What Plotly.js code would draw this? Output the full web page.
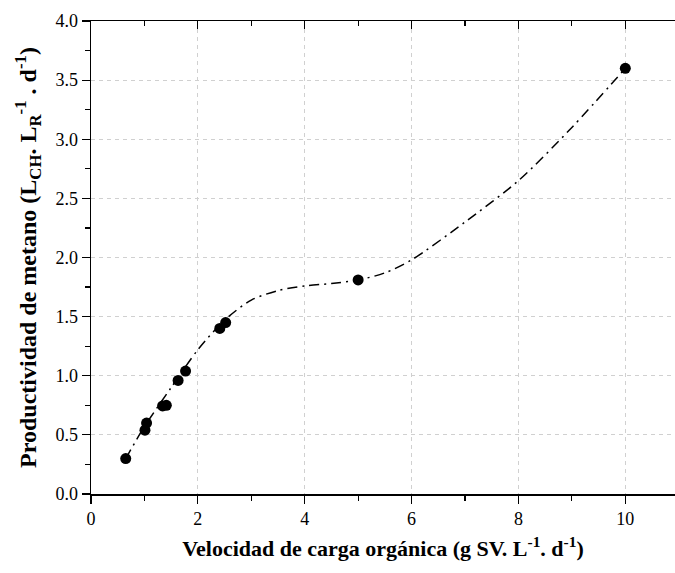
<!DOCTYPE html>
<html>
<head>
<meta charset="utf-8">
<script src="https://cdn.plot.ly/plotly-3.0.1.min.js"></script>
<style>
html,body{margin:0;padding:0;background:#fff;} #chart{width:675px;height:573px;}
#chart text{font-family:"Liberation Serif","Times New Roman",serif !important;}
</style>
</head>
<body>
<div id="chart"></div>
<script>
// Measured points
const olr = [0.65, 1.01, 1.04, 1.34, 1.41, 1.63, 1.77, 2.41, 2.52, 5.0, 10.0];
const methane = [0.30, 0.54, 0.60, 0.745, 0.75, 0.96, 1.04, 1.40, 1.45, 1.81, 3.60];
// Fitted trend line
const fitX = [0.65, 1.0, 1.5, 2.0, 2.5, 3.0, 3.5, 4.0, 4.5, 5.0, 5.5, 6.0, 7.0, 8.0, 9.0, 10.0];
const fitY = [0.30, 0.57, 0.90, 1.22, 1.47, 1.64, 1.72, 1.76, 1.78, 1.81, 1.87, 1.98, 2.30, 2.65, 3.10, 3.60];

const font = '"Liberation Serif", "Times New Roman", serif';

const traces = [
  {x: fitX, y: fitY, mode: 'lines', line: {shape: 'spline', smoothing: 0.8, color: '#000', width: 1.5, dash: '10px,5px,2px,5px'}, hoverinfo: 'skip', showlegend: false},
  {x: olr, y: methane, mode: 'markers', marker: {color: '#000', size: 11}, showlegend: false},
  {x: olr, y: methane, xaxis: 'x2', mode: 'markers', marker: {opacity: 0}, hoverinfo: 'skip', showlegend: false}
];

const layout = {
  width: 675, height: 573,
  margin: {l: 91, r: 0, t: 21, b: 79},
  paper_bgcolor: '#fff', plot_bgcolor: '#fff',
  font: {family: font, color: '#000', size: 17},
  xaxis: {
    range: [0, 10.93], dtick: 2, tick0: 0,
    showline: true, linecolor: '#000', linewidth: 1.5,
    ticks: 'outside', ticklen: 8, tickwidth: 1.2, tickcolor: '#000',
    minor: {dtick: 1, ticks: 'outside', ticklen: 5, tickwidth: 1.2, tickcolor: '#000', showgrid: false},
    showgrid: true, gridcolor: '#d0d0d0', griddash: '4px,4px', gridwidth: 1,
    zeroline: false,
    tickfont: {family: font, size: 18, color: '#000'},
    title: {text: '<b>Velocidad de carga orgánica (g SV. L<sup>-1</sup>. d<sup>-1</sup>)</b>', font: {family: font, size: 22, color: '#000'}, standoff: 12}
  },
  xaxis2: {
    matches: 'x', overlaying: 'x', side: 'top', anchor: 'y',
    range: [0, 10.93], dtick: 2, tick0: 0,
    showline: true, linecolor: '#000', linewidth: 1.5,
    ticks: 'inside', ticklen: 8, tickwidth: 1.2, tickcolor: '#000',
    minor: {dtick: 1, ticks: 'inside', ticklen: 5, tickwidth: 1.2, tickcolor: '#000', showgrid: false},
    showticklabels: false, showgrid: false, zeroline: false
  },
  yaxis: {
    range: [0, 4.0], dtick: 0.5, tick0: 0,
    showline: true, linecolor: '#000', linewidth: 1.5,
    ticks: 'outside', ticklen: 8, tickwidth: 1.2, tickcolor: '#000',
    minor: {dtick: 0.25, ticks: 'outside', ticklen: 5, tickwidth: 1.2, tickcolor: '#000', showgrid: false},
    showgrid: true, gridcolor: '#d0d0d0', griddash: '4px,4px', gridwidth: 1,
    zeroline: false, tickformat: '.1f',
    tickfont: {family: font, size: 18, color: '#000'},
    title: {text: '<b>Productividad de metano (L<sub>CH</sub>. L<sub>R</sub><sup>-1</sup> . d<sup>-1</sup>)</b>', font: {family: font, size: 24, color: '#000'}, standoff: 12}
  }
};

Plotly.newPlot('chart', traces, layout, {displayModeBar: false, staticPlot: true});
</script>
</body>
</html>
